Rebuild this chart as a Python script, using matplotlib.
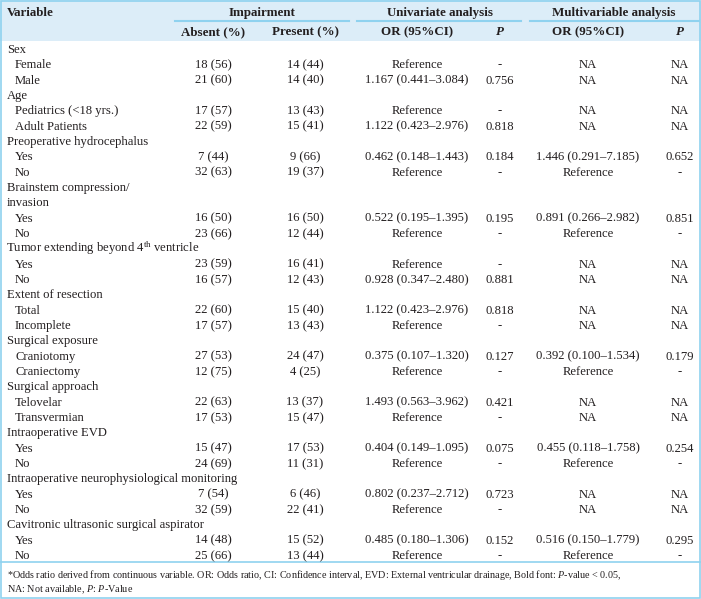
import matplotlib.pyplot as plt
from matplotlib.lines import Line2D
from matplotlib.patches import Rectangle

plt.rcParams['font.family'] = ['Liberation Serif', 'DejaVu Serif']
plt.rcParams['mathtext.fontset'] = 'custom'
plt.rcParams['mathtext.rm'] = 'Liberation Serif'
plt.rcParams['mathtext.it'] = 'Liberation Serif:italic'
plt.rcParams['mathtext.bf'] = 'Liberation Serif:bold'

# table data
groups = ["Sex", "Age", "Preoperative hydrocephalus",
          "Brainstem compression/\ninvasion",
          "Tumor extending beyond 4$^{\\mathrm{th}}$ ventricle",
          "Extent of resection", "Surgical exposure", "Surgical approach",
          "Intraoperative EVD", "Intraoperative neurophysiological monitoring",
          "Cavitronic ultrasonic surgical aspirator"]
levels = [["Female", "Male"], ["Pediatrics (<18 yrs.)", "Adult Patients"],
          ["Yes", "No"], ["Yes", "No"], ["Yes", "No"], ["Total", "Incomplete"],
          ["Craniotomy", "Craniectomy"], ["Telovelar", "Transvermian"],
          ["Yes", "No"], ["Yes", "No"], ["Yes", "No"]]
absent = ["18 (56)", "21 (60)", "17 (57)", "22 (59)", "7 (44)", "32 (63)",
          "16 (50)", "23 (66)", "23 (59)", "16 (57)", "22 (60)", "17 (57)",
          "27 (53)", "12 (75)", "22 (63)", "17 (53)", "15 (47)", "24 (69)",
          "7 (54)", "32 (59)", "14 (48)", "25 (66)"]
present = ["14 (44)", "14 (40)", "13 (43)", "15 (41)", "9 (66)", "19 (37)",
           "16 (50)", "12 (44)", "16 (41)", "12 (43)", "15 (40)", "13 (43)",
           "24 (47)", "4 (25)", "13 (37)", "15 (47)", "17 (53)", "11 (31)",
           "6 (46)", "22 (41)", "15 (52)", "13 (44)"]
uni_or = ["Reference", "1.167 (0.441–3.084)", "Reference", "1.122 (0.423–2.976)",
          "0.462 (0.148–1.443)", "Reference", "0.522 (0.195–1.395)", "Reference",
          "Reference", "0.928 (0.347–2.480)", "1.122 (0.423–2.976)", "Reference",
          "0.375 (0.107–1.320)", "Reference", "1.493 (0.563–3.962)", "Reference",
          "0.404 (0.149–1.095)", "Reference", "0.802 (0.237–2.712)", "Reference",
          "0.485 (0.180–1.306)", "Reference"]
uni_p = ["-", "0.756", "-", "0.818", "0.184", "-", "0.195", "-", "-", "0.881",
         "0.818", "-", "0.127", "-", "0.421", "-", "0.075", "-", "0.723", "-",
         "0.152", "-"]
multi_or = ["NA", "NA", "NA", "NA", "1.446 (0.291–7.185)", "Reference",
            "0.891 (0.266–2.982)", "Reference", "NA", "NA", "NA", "NA",
            "0.392 (0.100–1.534)", "Reference", "NA", "NA",
            "0.455 (0.118–1.758)", "Reference", "NA", "NA",
            "0.516 (0.150–1.779)", "Reference"]
multi_p = ["NA", "NA", "NA", "NA", "0.652", "-", "0.851", "-", "NA", "NA", "NA",
           "NA", "0.179", "-", "NA", "NA", "0.254", "-", "NA", "NA", "0.295", "-"]

W, H = 701, 599
fig = plt.figure(figsize=(W / 100, H / 100), dpi=100)
ax = fig.add_axes([0, 0, 1, 1])
ax.set_xlim(0, W)
ax.set_ylim(H, 0)
ax.axis('off')

txt = '#231f20'
blue = '#8fd2ef'
fs = 9.1
base = 4  # baseline offset below row centre

# header
ax.add_patch(Rectangle((0, 0), W, 41, color='#dcedf8', lw=0))
ax.add_patch(Rectangle((1, 0.5), W - 2.5, H - 1.5, fill=False, ec=blue, lw=1.2))
ax.add_line(Line2D([0, W], [562, 562], color=blue, lw=1.2))
for x0, x1 in [(175, 349), (357, 521), (530, 699)]:
    ax.add_line(Line2D([x0, x1], [21, 21], color=blue, lw=1.5))

cols = [213, 305, 417, 500, 588, 680]
hdr = dict(fontsize=fs + 0.3, color=txt, fontweight='bold', va='baseline')
ax.text(7, 12 + base, "Variable", ha='left', **hdr)
ax.text(262, 12 + base, "Impairment", ha='center', **hdr)
ax.text(440, 12 + base, "Univariate analysis", ha='center', **hdr)
ax.text(614, 12 + base, "Multivariable analysis", ha='center', **hdr)
ax.text(cols[0], 31 + base, "Absent (%)", ha='center', **hdr)
ax.text(cols[1], 31 + base, "Present (%)", ha='center', **hdr)
ax.text(cols[2], 31 + base, "OR (95%CI)", ha='center', **hdr)
ax.text(cols[3], 31 + base, "P", ha='center', fontstyle='italic', **hdr)
ax.text(cols[4], 31 + base, "OR (95%CI)", ha='center', **hdr)
ax.text(cols[5], 31 + base, "P", ha='center', fontstyle='italic', **hdr)

# body
y0, dy = 49, 15.33
r = 0
k = 0
for g, labs in zip(groups, levels):
    for line in g.split("\n"):
        xl = 6 if "$" in line else 7
        ax.text(xl, y0 + r * dy + base, line, fontsize=fs, color=txt,
                ha='left', va='baseline')
        r += 1
    for lab in labs:
        y = y0 + r * dy + base
        ax.text(15, y, lab, fontsize=fs, color=txt, ha='left', va='baseline')
        vals = [absent[k], present[k], uni_or[k], uni_p[k], multi_or[k], multi_p[k]]
        for x, v in zip(cols, vals):
            ax.text(x, y, v, fontsize=fs, color=txt, ha='center', va='baseline')
        r += 1
        k += 1

# footnote
fn = 7.3
ax.text(7, 575 + 3, "*Odds ratio derived from continuous variable. OR: Odds ratio, CI: Confidence "
        "interval, EVD: External ventricular drainage, Bold font: $\\mathit{P}$-value < 0.05,",
        fontsize=fn, color=txt, ha='left', va='baseline')
ax.text(7, 589 + 3, "NA: Not available, $\\mathit{P}$: $\\mathit{P}$-Value",
        fontsize=fn, color=txt, ha='left', va='baseline')

fig.savefig('out.png', dpi=100)
